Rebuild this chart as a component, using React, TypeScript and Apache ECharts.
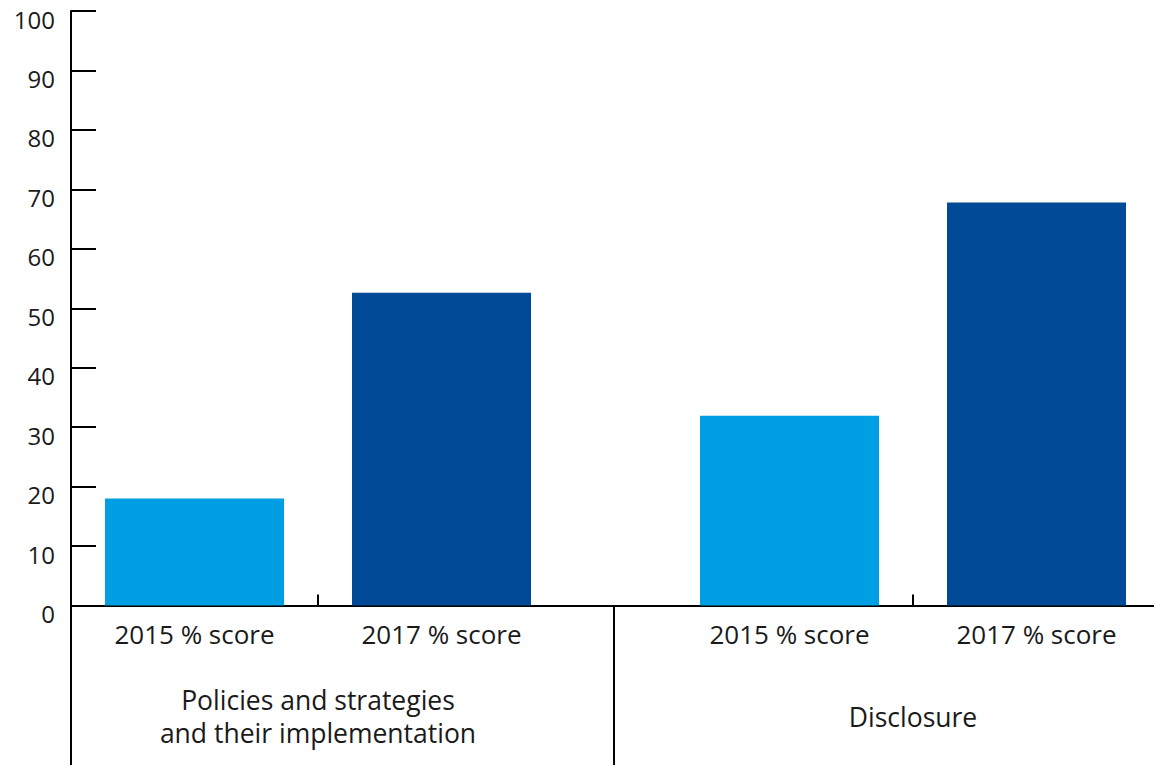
import React, { useEffect, useRef } from "react";
import * as echarts from "echarts";

const categories = ["2015 % score", "2017 % score"];
const groups = ["Policies and strategies\nand their implementation", "Disclosure"];
const policiesValues = [18, 52.6];
const disclosureValues = [31.9, 67.8];
const yMin = 0;
const yMax = 100;
const yInterval = 10;
const barColors = ["#009FE3", "#004A98"];

const FONT = "'Open Sans', sans-serif";
const TEXT = "#1a1a1a";

export default function App() {
  const ref = useRef<HTMLDivElement>(null);
  useEffect(() => {
    if (!ref.current) return;
    const chart = echarts.init(ref.current, null, { renderer: "svg" });
    const axisLineStyle = { color: "#000", width: 2 };
    const catAxis = (gridIndex: number) => ({
      type: "category",
      gridIndex,
      data: categories,
      position: "bottom",
      axisLine: { show: true, lineStyle: axisLineStyle },
      axisTick: { show: false },
      axisLabel: {
        margin: 15,
        fontSize: 26,
        fontFamily: FONT,
        color: TEXT,
        interval: 0,
      },
    });
    const groupAxis = (gridIndex: number, name: string) => ({
      type: "category",
      gridIndex,
      data: [name],
      position: "bottom",
      axisLine: { show: false },
      axisTick: { show: false },
      axisLabel: {
        margin: 111,
        fontSize: 26.5,
        lineHeight: 33,
        verticalAlign: "middle",
        align: "center",
        fontFamily: FONT,
        color: TEXT,
        interval: 0,
      },
    });
    const tickAxis = (gridIndex: number) => ({
      type: "value",
      gridIndex,
      min: 0,
      max: categories.length,
      position: "bottom",
      axisLine: { show: false },
      splitLine: { show: false },
      axisLabel: { show: false },
      axisTick: {
        show: true,
        inside: true,
        length: 11,
        customValues: [1],
        lineStyle: { color: "#000", width: 2 },
      },
    });
    const makeData = (vals: number[]) =>
      vals.map((v, i) => ({ value: v, itemStyle: { color: barColors[i] } }));

    chart.setOption({
      animation: false,
      backgroundColor: "#fff",
      grid: [
        { left: 71, top: 11, width: 494, height: 594.5, outerBoundsMode: "none", containLabel: false },
        { left: 666, top: 11, width: 494, height: 594.5, outerBoundsMode: "none", containLabel: false },
      ],
      xAxis: [
        catAxis(0),
        groupAxis(0, groups[0]),
        tickAxis(0),
        catAxis(1),
        groupAxis(1, groups[1]),
        tickAxis(1),
      ],
      yAxis: [
        {
          type: "value",
          gridIndex: 0,
          min: yMin,
          max: yMax,
          interval: yInterval,
          axisLine: { show: true, lineStyle: axisLineStyle },
          axisTick: { show: true, inside: true, length: 25, lineStyle: { color: "#000", width: 2 } },
          splitLine: { show: false },
          axisLabel: {
            margin: 16,
            fontSize: 24,
            fontFamily: FONT,
            color: TEXT,
            verticalAlign: "top",
            lineHeight: 16,
          },
        },
        {
          type: "value",
          gridIndex: 1,
          min: yMin,
          max: yMax,
          interval: yInterval,
          show: false,
          splitLine: { show: false },
        },
      ],
      series: [
        {
          type: "bar",
          name: groups[0],
          xAxisIndex: 0,
          yAxisIndex: 0,
          barWidth: 179,
          data: makeData(policiesValues),
        },
        {
          type: "bar",
          name: groups[1],
          xAxisIndex: 3,
          yAxisIndex: 1,
          barWidth: 179,
          data: makeData(disclosureValues),
        },
      ],
      graphic: [
        { type: "line", shape: { x1: 71, y1: 605, x2: 71, y2: 765 }, style: { stroke: "#000", lineWidth: 2 } },
        { type: "line", shape: { x1: 614, y1: 605, x2: 614, y2: 765 }, style: { stroke: "#000", lineWidth: 2 } },
        { type: "line", shape: { x1: 560, y1: 606, x2: 670, y2: 606 }, style: { stroke: "#000", lineWidth: 2 } },
      ],
    });
    return () => chart.dispose();
  }, []);
  return (
    <div
      ref={ref}
      style={{ position: "fixed", left: 0, top: 0, width: 1154, height: 765 }}
    />
  );
}
